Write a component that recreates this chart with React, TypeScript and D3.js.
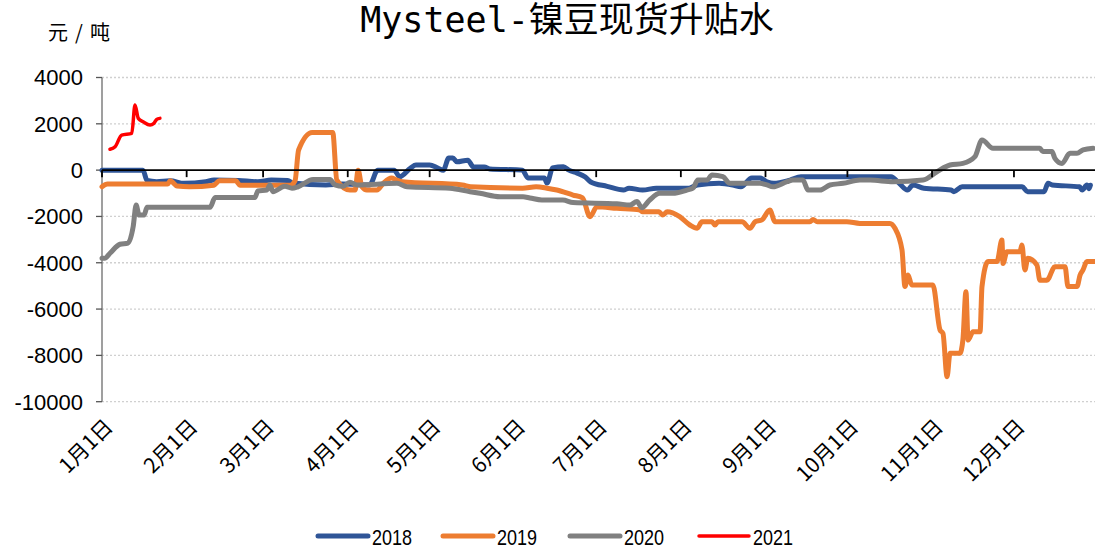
import * as d3 from 'd3'

// day of year (0 = Jan 1) / 元每吨
const s2018: [number, number][] = [
  [0, 0], [15, 0], [16.5, -450], [20, -500], [25, -460], [30, -570], [38, -500], [41, -430],
  [50, -450], [57, -500], [62, -430], [68, -450], [70, -560], [82, -640], [88, -600], [98, -640],
  [101, 0], [107, 0], [109, -280], [113, 90], [115, 220], [120, 220], [123, 90], [125, 0],
  [127, 520], [128.5, 520], [130, 360], [134, 430], [136, 140], [140, 140], [142, 50], [154, 0],
  [156, -340], [162, -340], [163, -560], [165, 90], [169, 150], [171, 0], [174, -130], [177, -300],
  [179, -510], [185, -700], [191, -860], [193, -780], [198, -860], [203, -780], [215, -780],
  [218, -640], [226, -570], [231, -640], [234, -720], [238, -340], [241, -340], [243.5, -500],
  [246, -570], [252, -430], [256, -285], [278, -285], [289, -285], [292, -570], [295, -860],
  [297, -640], [301, -780], [311, -860], [312, -930], [315, -720], [337, -720], [339, -930],
  [345, -930], [346.5, -570], [348, -640], [358, -720], [359, -860], [360.7, -640], [361.5, -800],
  [362, -650],
]

const s2019: [number, number][] = [
  [0, -720], [2, -600], [24, -600], [25, -460], [27.5, -690], [32, -720], [41, -650], [43, -460],
  [49, -460], [50.5, -650], [69, -650], [70.7, -460], [72, 870], [77, 1630], [84.5, 1630],
  [86, -430], [90.8, -860], [92.7, -860], [93.8, 0], [95.2, -720], [97, -860], [100.7, -860],
  [103, -570], [106, -340], [108, -430], [110, -500], [132, -640], [135, -720], [154, -780],
  [159, -720], [163, -780], [166.6, -860], [172.5, -1075], [176, -1200], [178.7, -2010],
  [181.3, -1580], [188.6, -1650], [197, -1720], [198, -1800], [204, -1800], [205.4, -1940],
  [207, -1800], [211.6, -2010], [215.3, -2370], [218, -2510], [219.7, -2230], [223.4, -2230],
  [224.5, -2370], [225.6, -2230], [234.4, -2230], [237.3, -2510], [239.2, -2230], [241.7, -2150],
  [244.6, -1720], [246.5, -2230], [259.3, -2230], [260.4, -2130], [262, -2230], [272.8, -2230],
  [277.6, -2300], [288.6, -2300], [290.4, -2510], [293, -3450], [294.1, -5030], [295.2, -4530],
  [296.6, -4960], [304.3, -4960], [306.9, -6900], [308, -7050], [309.5, -8920], [310.6, -7910],
  [314.2, -7910], [315.3, -7340], [316.4, -5250], [317.2, -7340], [319, -6980], [321.6, -6980],
  [322.3, -5030], [324.5, -3950], [327.8, -3950], [329.6, -3020], [330, -4030], [331.4, -3520],
  [336.2, -3520], [336.9, -3230], [338, -4310], [339.1, -3810], [342.4, -4100], [343.5, -4750],
  [346.1, -4750], [349, -4170], [352.7, -4170], [353.8, -5030], [357.1, -5030], [358.2, -4530],
  [359.3, -4310], [360.7, -3950], [364, -3950],
]

const s2020: [number, number][] = [
  [0, -3800], [1, -3800], [3, -3580], [6.6, -3200], [9.5, -3150], [11.4, -2440], [12.5, -1510],
  [13.6, -1940], [15.4, -1940], [16.5, -1600], [39.6, -1600], [41.4, -1180], [56, -1180],
  [57.1, -900], [60.4, -860], [61.5, -640], [62.6, -930], [67, -700], [69.6, -780], [71.8, -720],
  [77.3, -400], [83.5, -400], [85.3, -640], [88.3, -700], [90.8, -520], [93.4, -640], [108, -570],
  [111.7, -720], [127.4, -780], [134.8, -930], [138.4, -1000], [145.8, -1150], [154.2, -1150],
  [156.7, -1200], [161.1, -1290], [168.8, -1290], [172.5, -1400], [188.6, -1450], [193.3, -1510],
  [195.9, -1360], [197.7, -1620], [200.6, -1290], [204.3, -1000], [209.1, -1000], [214.2, -860],
  [216.4, -780], [218.2, -430], [221.5, -430], [223.4, -210], [227.4, -285], [229.9, -570],
  [240.9, -570], [243.5, -640], [245.7, -720], [250.9, -500], [253, -430], [256.7, -430],
  [258.6, -860], [263, -860], [266.6, -640], [271.4, -570], [277.6, -430], [281.3, -430],
  [289.7, -500], [300.7, -430], [305.8, -70], [310.6, 220], [315.3, 290], [319.7, 580],
  [322.3, 1300], [326.3, 940], [343.5, 940], [344.6, 800], [347.9, 800], [349, 510], [351.6, 290],
  [354.5, 725], [357.1, 725], [359.3, 870], [363, 940],
]

const s2021: [number, number][] = [
  [2.9, 900], [4.8, 1010], [7.2, 1515], [10.9, 1590], [12.1, 2810], [13.3, 2235], [15.1, 2090],
  [17.6, 1950], [19, 2020], [20, 2190], [21.2, 2235],
]

const seriesNames = ['2018', '2019', '2020', '2021']
const seriesColors = ['#2F5597', '#ED7D31', '#808080', '#FF0000']
const seriesWidths = [5, 5, 5, 3.5]
const seriesData = [s2018, s2019, s2020, s2021]

const monthLabels = ['1月1日', '2月1日', '3月1日', '4月1日', '5月1日', '6月1日',
  '7月1日', '8月1日', '9月1日', '10月1日', '11月1日', '12月1日']
const yTicks = [4000, 2000, 0, -2000, -4000, -6000, -8000, -10000]

const W = 1095
const H = 554
const yearStart = new Date(2018, 0, 1)
const yearEnd = new Date(2019, 0, 1)
const toDate = (d: number) => d3.timeHour.offset(yearStart, Math.round(d * 24))

const App = () => {
  const x = d3.scaleTime().domain([yearStart, yearEnd]).range([102, 1098.6])
  const y = d3.scaleLinear().domain([-10000, 4000]).range([401.7, 77.5])

  const line = d3.line<[number, number]>()
    .x(d => x(toDate(d[0])))
    .y(d => y(d[1]))
    .curve(d3.curveMonotoneX)

  const months = d3.timeMonth.range(yearStart, yearEnd)
  const left = x(yearStart)

  return (
    <svg width={W} height={H} style={{ position: 'absolute', left: 0, top: 0, background: '#fff' }}>
      {/* title */}
      <text x={567} y={32} textAnchor="middle" fontSize={35}
        fontFamily="'DejaVu Sans Mono', 'Noto Sans CJK SC', sans-serif" fill="#000">
        Mysteel-镍豆现货升贴水
      </text>
      <text x={48} y={40} fontSize={20} textLength={62}
        fontFamily="'Noto Sans CJK SC', sans-serif" fill="#000">元/吨</text>

      {/* grid */}
      {yTicks.filter(t => t !== 0).map(t => (
        <line key={t} x1={left} x2={W} y1={y(t)} y2={y(t)}
          stroke="#d0d0d0" strokeWidth={1.3} strokeDasharray="2 2" />
      ))}

      {/* y axis */}
      <line x1={left} x2={left} y1={y(4000)} y2={y(-10000)} stroke="#7f7f7f" strokeWidth={1.5} />
      {yTicks.map(t => (
        <g key={t}>
          <line x1={left - 6} x2={left} y1={y(t)} y2={y(t)} stroke="#555" strokeWidth={1.3} />
          <text x={83} y={y(t)} dy="0.36em" textAnchor="end" fontSize={22}
            fontFamily="'Liberation Sans', Arial, sans-serif" fill="#000">{t}</text>
        </g>
      ))}

      {/* series */}
      {seriesData.map((s, i) => (
        <path key={seriesNames[i]} d={line(s) ?? ''} fill="none" stroke={seriesColors[i]}
          strokeWidth={seriesWidths[i]} strokeLinejoin="round" strokeLinecap="round" />
      ))}

      {/* zero axis with month ticks */}
      <line x1={left} x2={W} y1={y(0)} y2={y(0)} stroke="#000" strokeWidth={1.8} />
      {months.map((m, i) => (
        <g key={i}>
          <line x1={x(m)} x2={x(m)} y1={y(0)} y2={y(0) + 7} stroke="#000" strokeWidth={1.8} />
          <text transform={`translate(${x(m) + 7},${423}) rotate(-45)`} textAnchor="end"
            dy="0.35em" fontSize={21} fontFamily="'Noto Sans CJK SC', sans-serif" fill="#000">
            {monthLabels[i]}
          </text>
        </g>
      ))}

      {/* legend */}
      {seriesNames.map((n, i) => {
        const lx = [318, 443, 570, 699][i]
        return (
          <g key={n}>
            <line x1={lx} x2={lx + 50} y1={536} y2={536} stroke={seriesColors[i]}
              strokeWidth={seriesWidths[i]} strokeLinecap="round" />
            <text x={lx + 54} y={545} fontSize={22} textLength={40} lengthAdjust="spacingAndGlyphs"
              fontFamily="'Liberation Sans', Arial, sans-serif" fill="#000">{n}</text>
          </g>
        )
      })}
    </svg>
  )
}

export default App
